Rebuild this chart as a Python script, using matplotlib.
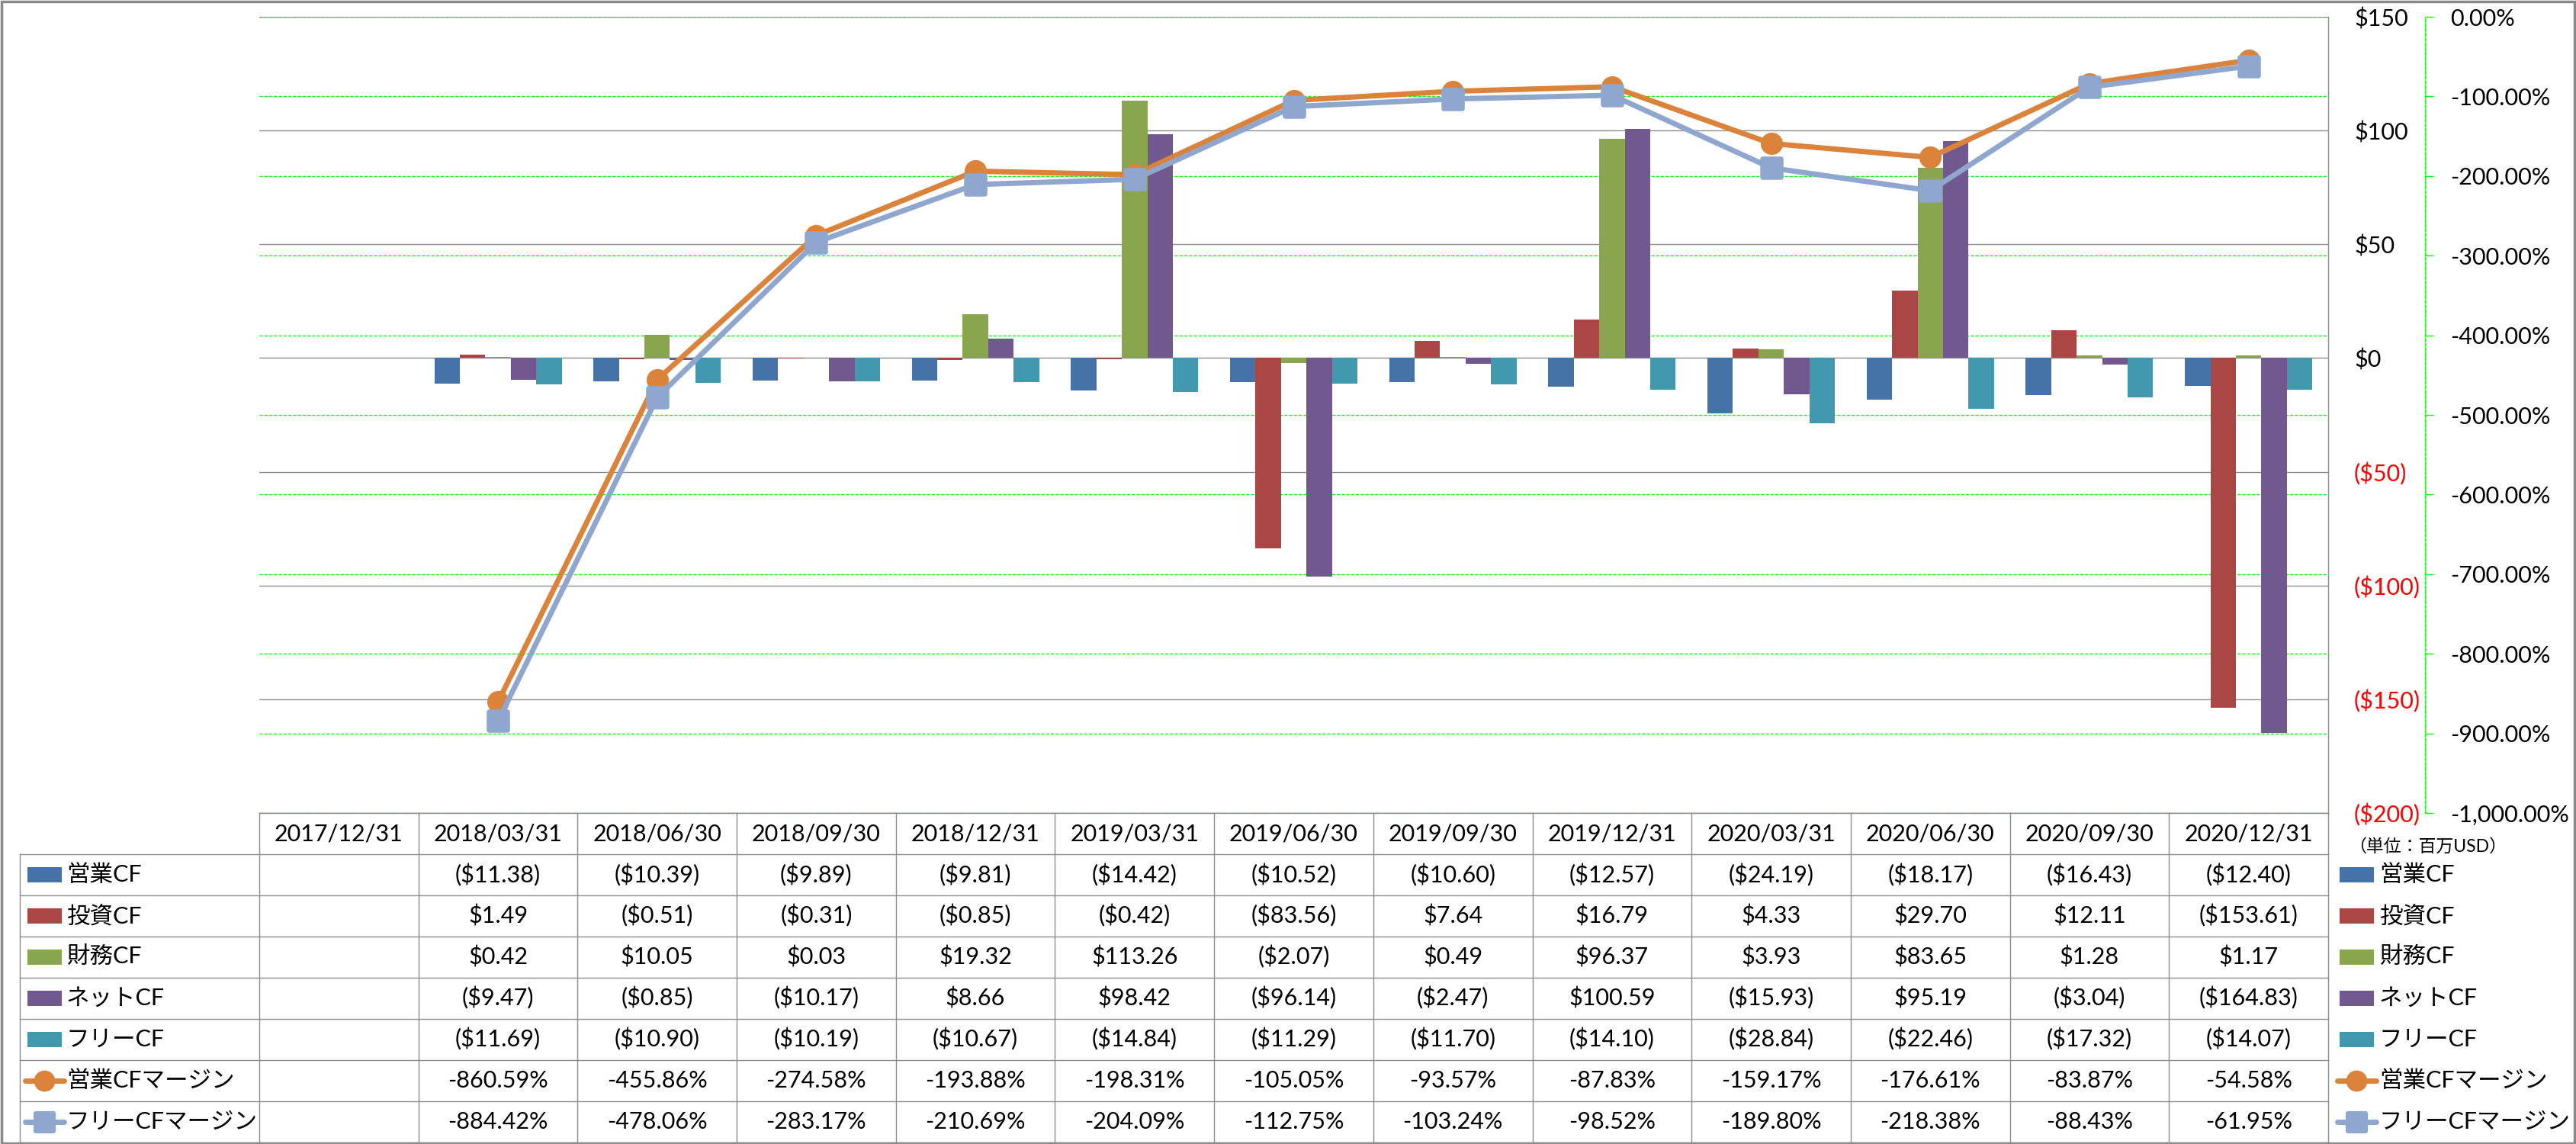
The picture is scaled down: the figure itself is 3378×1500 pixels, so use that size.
import numpy as np
import matplotlib
matplotlib.use('Agg')
import matplotlib.pyplot as plt
from matplotlib.patches import Rectangle, FancyBboxPatch

plt.rcParams['font.family'] = ['Lato', 'Noto Sans CJK JP', 'DejaVu Sans']
plt.rcParams['axes.unicode_minus'] = False

# ---------------- data ----------------
dates = ['2017/12/31', '2018/03/31', '2018/06/30', '2018/09/30', '2018/12/31',
         '2019/03/31', '2019/06/30', '2019/09/30', '2019/12/31',
         '2020/03/31', '2020/06/30', '2020/09/30', '2020/12/31']
nan = np.nan
op_cf = [nan, -11.38, -10.39, -9.89, -9.81, -14.42, -10.52, -10.60, -12.57, -24.19, -18.17, -16.43, -12.40]
inv_cf = [nan, 1.49, -0.51, -0.31, -0.85, -0.42, -83.56, 7.64, 16.79, 4.33, 29.70, 12.11, -153.61]
fin_cf = [nan, 0.42, 10.05, 0.03, 19.32, 113.26, -2.07, 0.49, 96.37, 3.93, 83.65, 1.28, 1.17]
net_cf = [nan, -9.47, -0.85, -10.17, 8.66, 98.42, -96.14, -2.47, 100.59, -15.93, 95.19, -3.04, -164.83]
free_cf = [nan, -11.69, -10.90, -10.19, -10.67, -14.84, -11.29, -11.70, -14.10, -28.84, -22.46, -17.32, -14.07]
op_margin = [nan, -860.59, -455.86, -274.58, -193.88, -198.31, -105.05, -93.57, -87.83, -159.17, -176.61, -83.87, -54.58]
free_margin = [nan, -884.42, -478.06, -283.17, -210.69, -204.09, -112.75, -103.24, -98.52, -189.80, -218.38, -88.43, -61.95]

bar_names = ['営業CF', '投資CF', '財務CF', 'ネットCF', 'フリーCF']
line_names = ['営業CFマージン', 'フリーCFマージン']
unit_label = '（単位：百万USD）'

bar_series = [op_cf, inv_cf, fin_cf, net_cf, free_cf]
line_series = [op_margin, free_margin]
bar_colors = ['#4572A7', '#AA4643', '#89A54E', '#71588F', '#4198AF']
line_colors = ['#DB823B', '#8FA7CE']

usd_ticks = np.arange(-200, 151, 50)
pct_ticks = np.arange(-1000, 1, 100)

# rounded-square marker
_rb = FancyBboxPatch((-0.5, -0.5), 1, 1, boxstyle='round,pad=0,rounding_size=0.12')
rsquare = _rb.get_path()
line_markers = ['o', rsquare]
marker_sizes = [21, 22]

# ---------------- layout ----------------
W, H, DPI = 3378, 1500, 100
fig = plt.figure(figsize=(W / DPI, H / DPI), dpi=DPI)
fig.patch.set_facecolor('white')
PX = 72.0 / DPI  # points per pixel

PL, PR, PT, PB = 340, 3053, 22, 1066
pos = [PL / W, 1 - PB / H, (PR - PL) / W, (PB - PT) / H]

GREY = '#8C8C8C'
FS = 22
n = len(dates)
x = np.arange(n)

# table / frame overlay
axt = fig.add_axes([0, 0, 1, 1])
axt.set_xlim(0, W)
axt.set_ylim(H, 0)
axt.axis('off')

# percent grid axis (bottom layer)
axg = fig.add_axes(pos)
axg.set_xlim(-0.5, n - 0.5)
axg.set_ylim(-1000, 0)
axg.patch.set_visible(False)
axg.set_xticks([])
axg.yaxis.tick_right()
axg.set_yticks(pct_ticks)
axg.set_yticklabels([f'{v:,.2f}%' for v in pct_ticks])
for lab, v in zip(axg.get_yticklabels(), pct_ticks):
    lab.set_color('black' if v >= 0 else '#FF0000')
axg.grid(axis='y', color='#00FF00', linestyle=(0, (3, 1.5)), linewidth=1.0)
for s in ['left', 'top', 'bottom']:
    axg.spines[s].set_visible(False)
axg.spines['right'].set_position(('outward', 127 * PX))
axg.spines['right'].set_color('#00FF00')
axg.spines['right'].set_linestyle((0, (3, 1.5)))
axg.spines['right'].set_linewidth(1.0)
axg.tick_params(axis='y', direction='out', length=11 * PX, width=1.0, color='#00FF00',
                pad=22 * PX, labelsize=FS)

# bar axis (USD)
ax = fig.add_axes(pos)
ax.patch.set_visible(False)
ax.set_xlim(-0.5, n - 0.5)
ax.set_ylim(-200, 150)
ax.set_xticks([])
ax.yaxis.tick_right()
ax.set_yticks(usd_ticks)
ax.set_yticklabels([(f'(\\${abs(v):,.0f})' if v < 0 else f'\\${v:,.0f}') for v in usd_ticks])
for lab, v in zip(ax.get_yticklabels(), usd_ticks):
    lab.set_color('black' if v >= 0 else '#FF0000')
ax.tick_params(axis='y', length=0, pad=34 * PX, labelsize=FS)
ax.grid(axis='y', color=GREY, linewidth=1.0)
ax.set_axisbelow(True)
for s in ['left', 'top', 'bottom']:
    ax.spines[s].set_visible(False)
ax.spines['right'].set_color(GREY)
ax.spines['right'].set_linewidth(1.0)

bw = 0.16
for k, (vals, col) in enumerate(zip(bar_series, bar_colors)):
    v = np.array(vals, dtype=float)
    m = ~np.isnan(v)
    ax.bar(x[m] + (k - 2) * bw, v[m], width=bw, color=col, zorder=2, linewidth=0)

# line axis (percent)
axl = fig.add_axes(pos)
axl.set_xlim(-0.5, n - 0.5)
axl.set_ylim(-1000, 0)
axl.axis('off')
for vals, col, mk, ms in zip(line_series, line_colors, line_markers, marker_sizes):
    v = np.array(vals, dtype=float)
    axl.plot(x, v, color=col, lw=5.0, marker=mk, markersize=ms, markeredgewidth=0,
             markerfacecolor=col, clip_on=False, solid_capstyle='butt')

# ---------------- data table ----------------
xs = PL + (PR - PL) * np.arange(n + 1) / n
TL = 26
hdr_top, hdr_bot = PB, 1120
rh = (1497.5 - hdr_bot) / 7
row_edges = hdr_bot + rh * np.arange(8)
lw_t = 1.0

axt.plot([PL, PR], [hdr_top, hdr_top], color=GREY, lw=lw_t)
for ye in row_edges:
    axt.plot([TL, PR], [ye, ye], color=GREY, lw=lw_t)
for xe in xs:
    axt.plot([xe, xe], [hdr_top, row_edges[-1]], color=GREY, lw=lw_t)
axt.plot([TL, TL], [hdr_bot, row_edges[-1]], color=GREY, lw=lw_t)

for i, d in enumerate(dates):
    axt.text((xs[i] + xs[i + 1]) / 2, (hdr_top + hdr_bot) / 2, d, ha='center', va='center', fontsize=FS)


def money(v):
    if np.isnan(v):
        return ''
    return f'(\\${abs(v):,.2f})' if v < 0 else f'\\${v:,.2f}'


def pct(v):
    if np.isnan(v):
        return ''
    return f'{v:.2f}%'


rows = [(nm, vals, money) for nm, vals in zip(bar_names, bar_series)] + \
       [(nm, vals, pct) for nm, vals in zip(line_names, line_series)]
for r, (nm, vals, fmt) in enumerate(rows):
    yc = (row_edges[r] + row_edges[r + 1]) / 2
    for i, v in enumerate(vals):
        axt.text((xs[i] + xs[i + 1]) / 2, yc, fmt(float(v)), ha='center', va='center', fontsize=FS)


# legend keys (table left column and right legend)
def draw_key(r, kx, tx, yc):
    if r < 5:
        axt.add_patch(Rectangle((kx, yc - 10), 45, 20, color=bar_colors[r], lw=0))
    else:
        j = r - 5
        axt.plot([kx - 3, kx + 48], [yc, yc], color=line_colors[j], lw=5.0, solid_capstyle='round')
        axt.plot([kx + 22.5], [yc], marker=line_markers[j], markersize=marker_sizes[j] - 1,
                 markeredgewidth=0, color=line_colors[j])
    axt.text(tx, yc, (bar_names + line_names)[r], ha='left', va='center', fontsize=FS)


for r in range(7):
    yc = (row_edges[r] + row_edges[r + 1]) / 2
    draw_key(r, 36, 87, yc)
    draw_key(r, 3068, 3120, yc)

axt.text(3080, 1110, unit_label, ha='left', va='center', fontsize=16.5)

# outer border
axt.add_patch(Rectangle((2, 1.5), W - 4, H - 3, fill=False, edgecolor='#898989', lw=2.5))

fig.savefig('out.png', dpi=DPI)
